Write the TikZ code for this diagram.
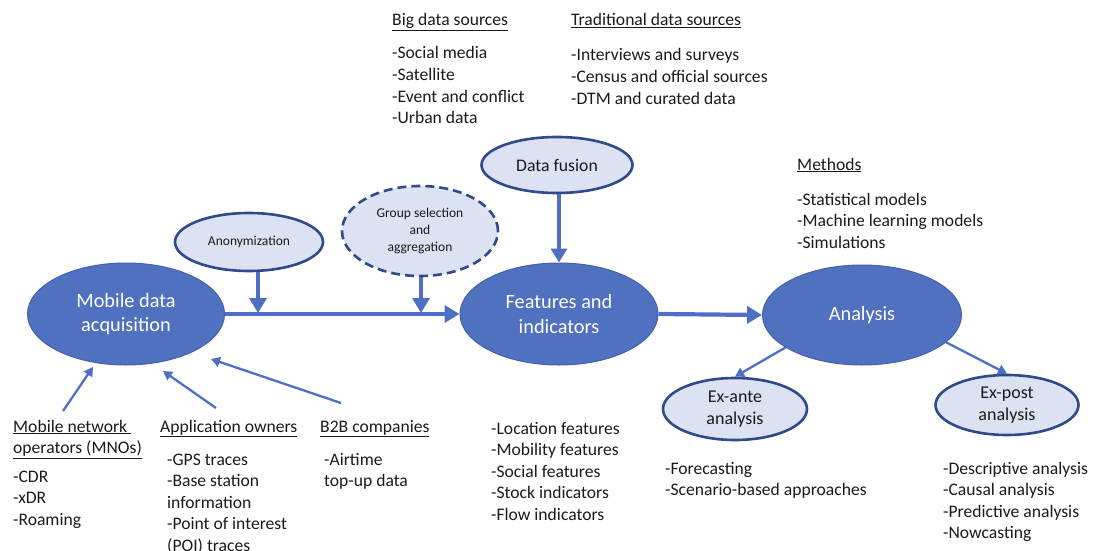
\documentclass[tikz,border=0pt]{standalone}
\usepackage{fontspec}
\setmainfont{Carlito}
\usetikzlibrary{shapes.geometric,arrows.meta}
\definecolor{mainblue}{HTML}{5070C0}
\definecolor{mainedge}{HTML}{4460B0}
\definecolor{lightfill}{HTML}{DCE2F2}
\definecolor{darkedge}{HTML}{2F4A8C}
\definecolor{arrowblue}{HTML}{4F6FC6}
\definecolor{txt}{HTML}{1A1A1A}
\newcommand\mylist[1]{\begin{tabular}[t]{@{}l@{}}#1\end{tabular}}
\begin{document}
\begin{tikzpicture}[x=1pt,y=-1pt,
  bigell/.style={ellipse, fill=mainblue, draw=mainedge, line width=1pt, text=white,
    font=\fontsize{20.3}{24.5}\selectfont, align=center, inner sep=0pt},
  smallell/.style={ellipse, fill=lightfill, draw=darkedge, line width=2.6pt, text=txt,
    align=center, inner sep=0pt},
  fatarrow/.style={draw=arrowblue, line width=4.2pt, -{Triangle[length=15pt,width=17pt]}},
  midarrow/.style={draw=arrowblue, line width=3.6pt, -{Triangle[length=14pt,width=16pt]}},
  thinarrow/.style={draw=arrowblue, line width=2.3pt, -{Triangle[length=9pt,width=10pt]}},
  listtext/.style={anchor=base west, text=txt, inner sep=0pt,
    font=\fontsize{17.6}{21.6}\selectfont},
]
\useasboundingbox (0,0) rectangle (1103,551);

% main ellipses
\node[bigell, minimum width=197pt, minimum height=102pt] (mobile) at (126,314) {Mobile data\\acquisition};
\node[bigell, minimum width=198pt, minimum height=102pt] (feat) at (559,314) {Features and\\indicators};
\node[bigell, minimum width=199pt, minimum height=100pt] (anal) at (862,315) {Analysis};

% small ellipses
\node[smallell, minimum width=148pt, minimum height=58pt, font=\fontsize{13.5}{16}\selectfont] (anon) at (249,242) {Anonymization};
\node[smallell, dashed, dash pattern=on 9pt off 5pt, minimum width=156pt, minimum height=90pt,
  font=\fontsize{13.5}{17}\selectfont] (group) at (420,231) {Group selection\\and\\aggregation};
\node[smallell, minimum width=151pt, minimum height=56pt, font=\fontsize{17.7}{20}\selectfont] (fusion) at (557,165) {Data fusion};
\node[smallell, minimum width=144pt, minimum height=62pt, font=\fontsize{18}{21.5}\selectfont] (exante) at (735,409) {Ex-ante\\analysis};
\node[smallell, minimum width=143pt, minimum height=60pt, font=\fontsize{18}{21.5}\selectfont] (expost) at (1007,405) {Ex-post\\analysis};

% main flow arrows
\draw[fatarrow] (mobile.east) -- (feat.west);
\draw[fatarrow] (feat.east) -- (anal.west);
\coordinate (j1) at (258,313);
\coordinate (j2) at (421,313);
\draw[fatarrow] (anon.south -| j1) -- (j1);
\draw[fatarrow] (group.south -| j2) -- (j2);
\draw[midarrow] (fusion.south -| feat.north) -- (feat.north);

% analysis branches
\draw[thinarrow] (anal.203) -- (exante.north);
\draw[thinarrow] (anal.342) -- (expost.north);

% source arrows
\coordinate (s1) at (63,411);
\coordinate (t1) at (93,367);
\coordinate (s2) at (216,408);
\coordinate (t2) at (163,371);
\coordinate (s3) at (341,403);
\coordinate (t3) at (211,359);
\draw[thinarrow] (s1) -- (t1);
\draw[thinarrow] (s2) -- (t2);
\draw[thinarrow] (s3) -- (t3);

% text blocks
\node[listtext] (bighead) at (392,26) {\underline{Big data sources}};
\node[listtext] (biglist) at (392,59) {\mylist{-Social media\\-Satellite\\-Event and conflict\\-Urban data}};
\node[listtext] (tradhead) at (571,26) {\underline{Traditional data sources}};
\node[listtext] (tradlist) at (571,61) {\mylist{-Interviews and surveys\\-Census and official sources\\-DTM and curated data}};
\node[listtext] (methhead) at (797,170) {\underline{Methods}};
\node[listtext] (methlist) at (797,205) {\mylist{-Statistical models\\-Machine learning models\\-Simulations}};

\node[listtext] (mnohead) at (13,432) {\mylist{\underline{Mobile network\ }\\\underline{operators (MNOs)}}};
\node[listtext] (mnolist) at (13,482) {\mylist{-CDR\\-xDR\\-Roaming}};
\node[listtext] (apphead) at (160,432) {\underline{Application owners}};
\node[listtext] (applist) at (167,465) {\mylist{-GPS traces\\-Base station\\information\\-Point of interest\\(POI) traces}};
\node[listtext] (b2bhead) at (320,432) {\underline{B2B companies}};
\node[listtext] (b2blist) at (324,465) {\mylist{-Airtime\\top-up data}};

\node[listtext] (featlist) at (491,434) {\mylist{-Location features\\-Mobility features\\-Social features\\-Stock indicators\\-Flow indicators}};
\node[listtext] (antelist) at (665,474) {\mylist{-Forecasting\\-Scenario-based approaches}};
\node[listtext] (postlist) at (943,474) {\mylist{-Descriptive analysis\\-Causal analysis\\-Predictive analysis\\-Nowcasting}};
\end{tikzpicture}
\end{document}
